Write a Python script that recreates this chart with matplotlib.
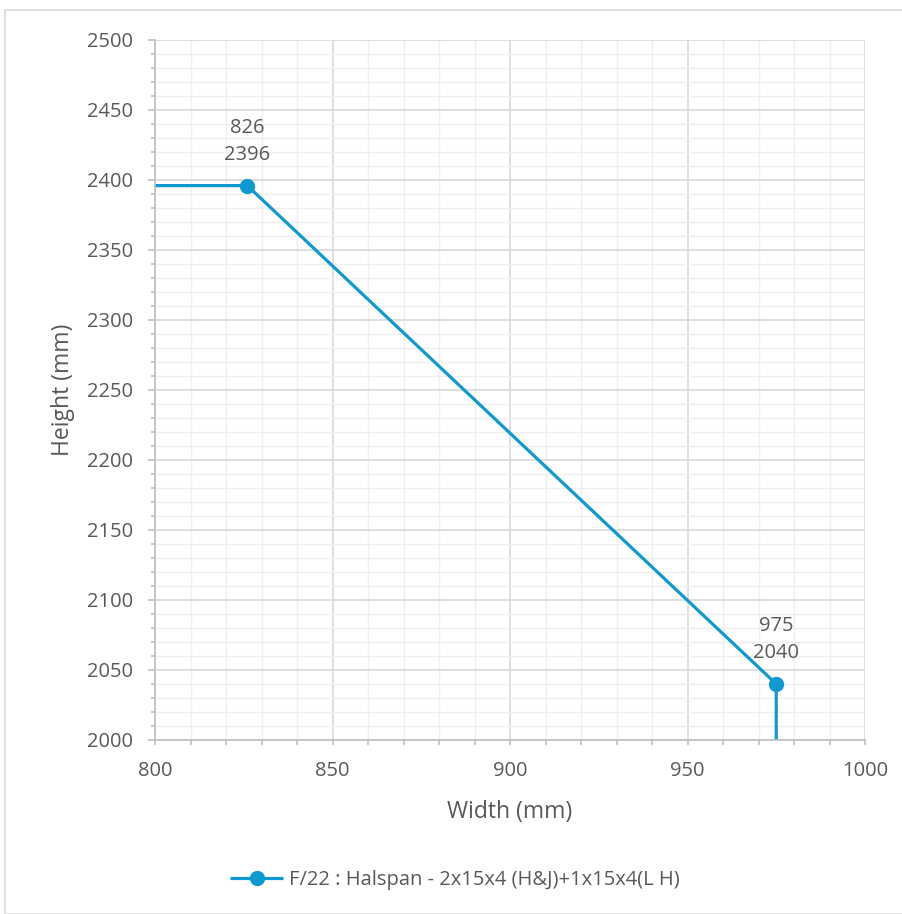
import matplotlib.pyplot as plt
from matplotlib.patches import Rectangle
from matplotlib.ticker import MultipleLocator

widths = [800, 826, 975, 975]
heights = [2396, 2396, 2040, 2000]
points = [1, 2]
series_label = "F/22 : Halspan - 2x15x4 (H&J)+1x15x4(L H)"

blue = '#0E9AD0'
txt = '#595959'
plt.rcParams['font.family'] = ['Open Sans', 'DejaVu Sans']

fig = plt.figure(figsize=(9.03, 9.14), dpi=100)
fig.patches.append(Rectangle((5/903, 0), 1, 1 - 10/914, transform=fig.transFigure,
                             fill=False, edgecolor='#d9d9d9', lw=1.2))
ax = fig.add_axes([155/903, 1 - 740/914, 710/903, 700/914])

ax.plot(widths, heights, color=blue, lw=2.3, marker='o', markersize=10,
        markevery=points, label=series_label, solid_capstyle='butt')
for i in points:
    ax.annotate(f"{widths[i]}\n{heights[i]}", (widths[i], heights[i]),
                xytext=(0, 15), textcoords='offset points', ha='center', va='bottom',
                fontsize=14.5, color=txt, linespacing=1.45)

ax.set_xlim(800, 1000)
ax.set_ylim(2000, 2500)
ax.xaxis.set_major_locator(MultipleLocator(50))
ax.xaxis.set_minor_locator(MultipleLocator(10))
ax.yaxis.set_major_locator(MultipleLocator(50))
ax.yaxis.set_minor_locator(MultipleLocator(10))
ax.grid(which='major', color='#d9d9d9', lw=1.2)
ax.grid(which='minor', color='#efefef', lw=1.0)
ax.set_axisbelow(True)
for s in ['top', 'right']:
    ax.spines[s].set_visible(False)
for s in ['left', 'bottom']:
    ax.spines[s].set_color('#bfbfbf')
    ax.spines[s].set_linewidth(1.2)
ax.tick_params(which='both', colors='#bfbfbf', labelcolor=txt, labelsize=14.5, width=1.2)
ax.tick_params(axis='x', which='both', length=3.6, pad=11.5)
ax.tick_params(axis='y', which='major', length=5, pad=10.5)
ax.tick_params(axis='y', which='minor', length=3)
ax.set_xlabel('Width (mm)', fontsize=16.5, color=txt, labelpad=14)
ax.set_ylabel('Height (mm)', fontsize=16.5, color=txt, labelpad=9)

fig.legend(loc='center', bbox_to_anchor=(455/903, 1 - 880/914), frameon=False,
           fontsize=14.5, labelcolor=txt, handlelength=2.6, handletextpad=0.3)

fig.savefig('out.png', dpi=100)
